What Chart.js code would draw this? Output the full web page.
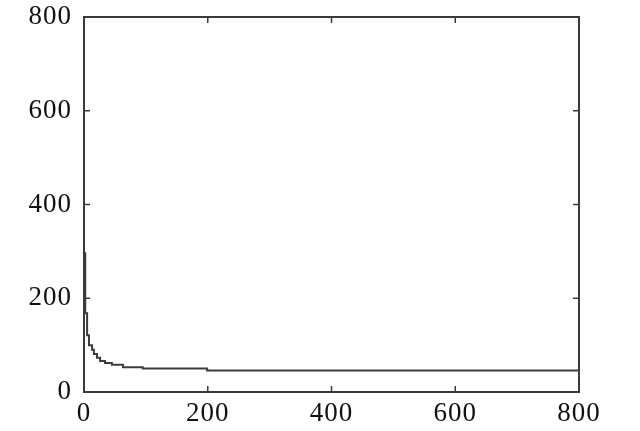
<!DOCTYPE html>
<html>
<head>
<meta charset="utf-8">
<script src="https://cdn.jsdelivr.net/npm/chart.js@4.4.1/dist/chart.umd.min.js"></script>
<style>
  html, body { margin: 0; padding: 0; background: #fff; }
  #wrap { width: 640px; height: 431px; }
</style>
</head>
<body>
<div id="wrap"><canvas id="myChart"></canvas></div>
<script>
// values (step curve)
const xValues = [1, 2, 5, 8, 13, 16, 21, 26, 34, 45, 63, 95, 199, 800];
const yValues = [296, 168, 121, 100, 90, 81, 73, 66, 62, 58, 53, 50, 46, 46];
const tickValues = [0, 200, 400, 600, 800];

const points = xValues.map((x, i) => ({ x: x, y: yValues[i] }));

// box around plot + ticks pointing inward on all sides
const frame = {
  id: "frame",
  beforeDraw(chart) {
    chart.ctx.letterSpacing = "1px";
  },
  afterDraw(chart) {
    const { ctx, chartArea: a, scales } = chart;
    ctx.save();
    ctx.strokeStyle = "#3a3a3a";
    ctx.lineWidth = 2;
    ctx.strokeRect(a.left, a.top, a.right - a.left, a.bottom - a.top);
    ctx.lineWidth = 1.5;
    const len = 6;
    tickValues.slice(1, -1).forEach(v => {
      const px = scales.x.getPixelForValue(v);
      const py = scales.y.getPixelForValue(v);
      ctx.beginPath();
      ctx.moveTo(px, a.bottom); ctx.lineTo(px, a.bottom - len);
      ctx.moveTo(px, a.top); ctx.lineTo(px, a.top + len);
      ctx.moveTo(a.left, py); ctx.lineTo(a.left + len, py);
      ctx.moveTo(a.right, py); ctx.lineTo(a.right - len, py);
      ctx.stroke();
    });
    ctx.restore();
  }
};

const tickFont = { family: "Liberation Serif", size: 27 };

new Chart(document.getElementById("myChart"), {
  type: "line",
  data: {
    datasets: [{
      data: points,
      stepped: "before",
      borderColor: "#3c3c3c",
      borderWidth: 2,
      pointRadius: 0,
      fill: false
    }]
  },
  options: {
    responsive: true,
    maintainAspectRatio: false,
    animation: false,
    layout: { padding: { top: 17, right: 61, left: 0, bottom: 0 } },
    plugins: { legend: { display: false }, tooltip: { enabled: false } },
    scales: {
      x: {
        type: "linear",
        min: 0, max: 800,
        afterBuildTicks: s => { s.ticks = tickValues.map(v => ({ value: v })); },
        afterFit: s => { s.height = 39; s.paddingLeft = 0; s.paddingRight = 0; },
        grid: { display: false, drawTicks: false },
        border: { display: false },
        ticks: { color: "#111", font: tickFont, padding: 6, maxRotation: 0 }
      },
      y: {
        min: 0, max: 800,
        afterBuildTicks: s => { s.ticks = tickValues.map(v => ({ value: v })); },
        afterFit: s => { s.width = 84; s.paddingTop = 0; s.paddingBottom = 0; },
        grid: { display: false, drawTicks: false },
        border: { display: false },
        ticks: { color: "#111", font: tickFont, padding: 12 }
      }
    }
  },
  plugins: [frame]
});
</script>
</body>
</html>
